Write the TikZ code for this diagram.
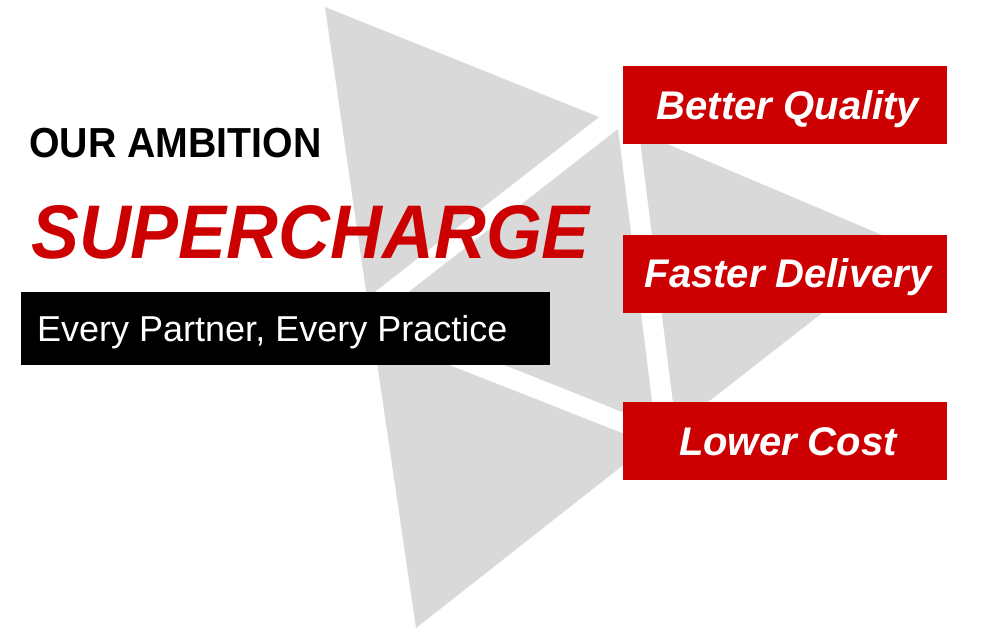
\documentclass[tikz,border=0pt]{standalone}
\usepackage{fontspec}
\setmainfont{Liberation Sans}
\definecolor{trigray}{RGB}{217,217,217}
\definecolor{brand}{RGB}{204,0,0}
\begin{document}
\begin{tikzpicture}[x=1pt,y=-1pt,
  redbox/.style={fill=brand, minimum width=324pt, minimum height=78pt, inner sep=0pt,
    text=white, text height=28.5pt, text depth=0pt,
    execute at begin node=\kern6pt,
    font=\fontsize{40}{44}\selectfont\bfseries\itshape},
  plain/.style={anchor=base west, inner sep=0pt}
]
\useasboundingbox (0,0) rectangle (991,637);
\fill[white] (0,0) rectangle (991,637);
% four gray triangles
\fill[trigray] (325,7) -- (599,117) -- (367,298) -- cycle;
\fill[trigray] (618,129) -- (655,425) -- (379,315) -- cycle;
\fill[trigray] (639,132) -- (908,246) -- (676,427) -- cycle;
\fill[trigray] (373,335) -- (650,444) -- (416,628) -- cycle;
% red boxes
\node[redbox] (bq) at (785,105) {Better Quality};
\node[redbox] (fd) at (785,273.5) {Faster Delivery};
\node[redbox] (lc) at (785,441) {Lower Cost};
% left texts
\node[plain, font=\fontsize{42}{48}\selectfont\bfseries] (amb) at (29,157) {\scalebox{0.935}[1]{OUR AMBITION}};
\node[plain, text=brand, font=\fontsize{76}{80}\selectfont\bfseries\itshape] (sup) at (31,258) {\scalebox{0.945}[1]{SUPERCHARGE}};
\node[fill=black, minimum width=529pt, minimum height=73pt, inner sep=0pt] (bar) at (285.5,328.5) {};
\node[plain, text=white, font=\fontsize{36}{40}\selectfont] (sub) at (37,341) {Every Partner, Every Practice};
\end{tikzpicture}
\end{document}
